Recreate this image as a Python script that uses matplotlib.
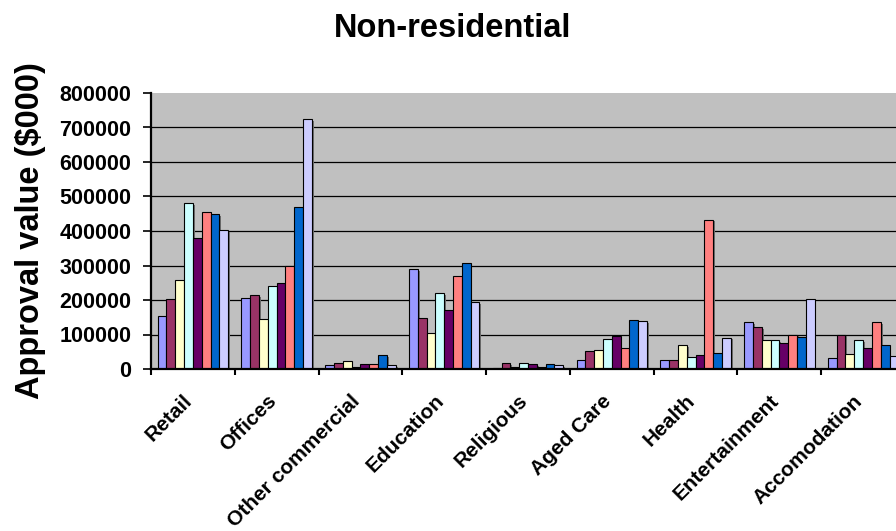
import matplotlib
matplotlib.use("Agg")
import matplotlib.pyplot as plt
import matplotlib.patheffects as pe
import matplotlib.transforms as mtransforms
import numpy as np

plt.rcParams['font.family'] = ['Liberation Sans', 'DejaVu Sans']

categories = ["Retail", "Offices", "Other commercial", "Education", "Religious",
              "Aged Care", "Health", "Entertainment", "Accomodation"]

# Approval values ($000), one list per series, in category order
series_1 = [153000, 206000, 11000, 289000, 3000, 26000, 26000, 135000, 31000]
series_2 = [203000, 214000, 18000, 147000, 17000, 51000, 26000, 121000, 100000]
series_3 = [258000, 144000, 24000, 103000, 6000, 54000, 69000, 83000, 43000]
series_4 = [480000, 242000, 7000, 219000, 17000, 87000, 34000, 83000, 83000]
series_5 = [379000, 250000, 14000, 171000, 14000, 95000, 40000, 74000, 60000]
series_6 = [456000, 298000, 14000, 269000, 6000, 60000, 433000, 100000, 135000]
series_7 = [450000, 469000, 41000, 306000, 14000, 142000, 46000, 94000, 71000]
series_8 = [403000, 724000, 11000, 194000, 11000, 139000, 91000, 203000, 37000]

y_ticks = [0, 100000, 200000, 300000, 400000, 500000, 600000, 700000, 800000]

all_series = [series_1, series_2, series_3, series_4,
              series_5, series_6, series_7, series_8]
colors = ["#9999FF", "#993366", "#FFFFCC", "#CCFFFF",
          "#660066", "#FF8080", "#0066CC", "#CCCCFF"]

W, H = 896, 531
fig = plt.figure(figsize=(W / 100, H / 100), dpi=100)
fig.patch.set_facecolor("white")

# plot area runs a little past the right edge of the figure
left, right, top, bottom = 151, 905, 93, 369
ax = fig.add_axes([left / W, 1 - bottom / H, (right - left) / W, (bottom - top) / H])
ax.set_facecolor("#C0C0C0")

n_series = len(all_series)
gap = 1.5
bar_w = 1.0 / (n_series + gap)
x = np.arange(len(categories))

shadow = [pe.SimplePatchShadow(offset=(1.3, -1.3), shadow_rgbFace="#6E6E6E", alpha=1.0),
          pe.Normal()]
for i, (vals, col) in enumerate(zip(all_series, colors)):
    xs = x + gap * bar_w / 2 + i * bar_w
    bars = ax.bar(xs, vals, width=bar_w, align="edge", color=col,
                  edgecolor="black", linewidth=0.8, zorder=3 + i * 0.01)
    for b in bars:
        b.set_path_effects(shadow)

ax.set_xlim(0, len(categories))
ax.set_ylim(0, 800000)

# horizontal grid lines (none on the top edge)
for t in y_ticks[1:-1]:
    ax.axhline(t, color="black", linewidth=0.9, zorder=1)

ax.set_yticks(y_ticks)
ax.set_yticklabels([str(t) for t in y_ticks], fontsize=15.5, fontweight="bold")
ax.tick_params(axis="y", direction="out", length=6, width=1.2, pad=8, colors="black")

# tick marks at category boundaries, labels at centres
ax.set_xticks(np.arange(len(categories) + 1))
ax.set_xticklabels([])
ax.tick_params(axis="x", which="major", direction="out", length=4.5, width=1.5)
ax.set_xticks(x + 0.5, minor=True)
ax.set_xticklabels(categories, minor=True, fontsize=15, fontweight="bold",
                   rotation=45, ha="right", va="top", rotation_mode="anchor")
ax.tick_params(axis="x", which="minor", length=0, pad=16)
offset = mtransforms.ScaledTranslation(-10 / 100, 0, fig.dpi_scale_trans)
for lab in ax.get_xticklabels(minor=True):
    lab.set_transform(lab.get_transform() + offset)

for s in ["top", "right"]:
    ax.spines[s].set_visible(False)
for s in ["left", "bottom"]:
    ax.spines[s].set_linewidth(1.6)
    ax.spines[s].set_zorder(5)

fig.text(452.5 / W, 1 - 37 / H, "Non-residential", fontsize=23.5, fontweight="bold",
         ha="center", va="baseline")
fig.text(39 / W, 1 - 231 / H, "Approval value ($000)", fontsize=23.5, fontweight="bold",
         rotation=90, rotation_mode="anchor", ha="center", va="baseline")

fig.savefig("out.png", dpi=100)
